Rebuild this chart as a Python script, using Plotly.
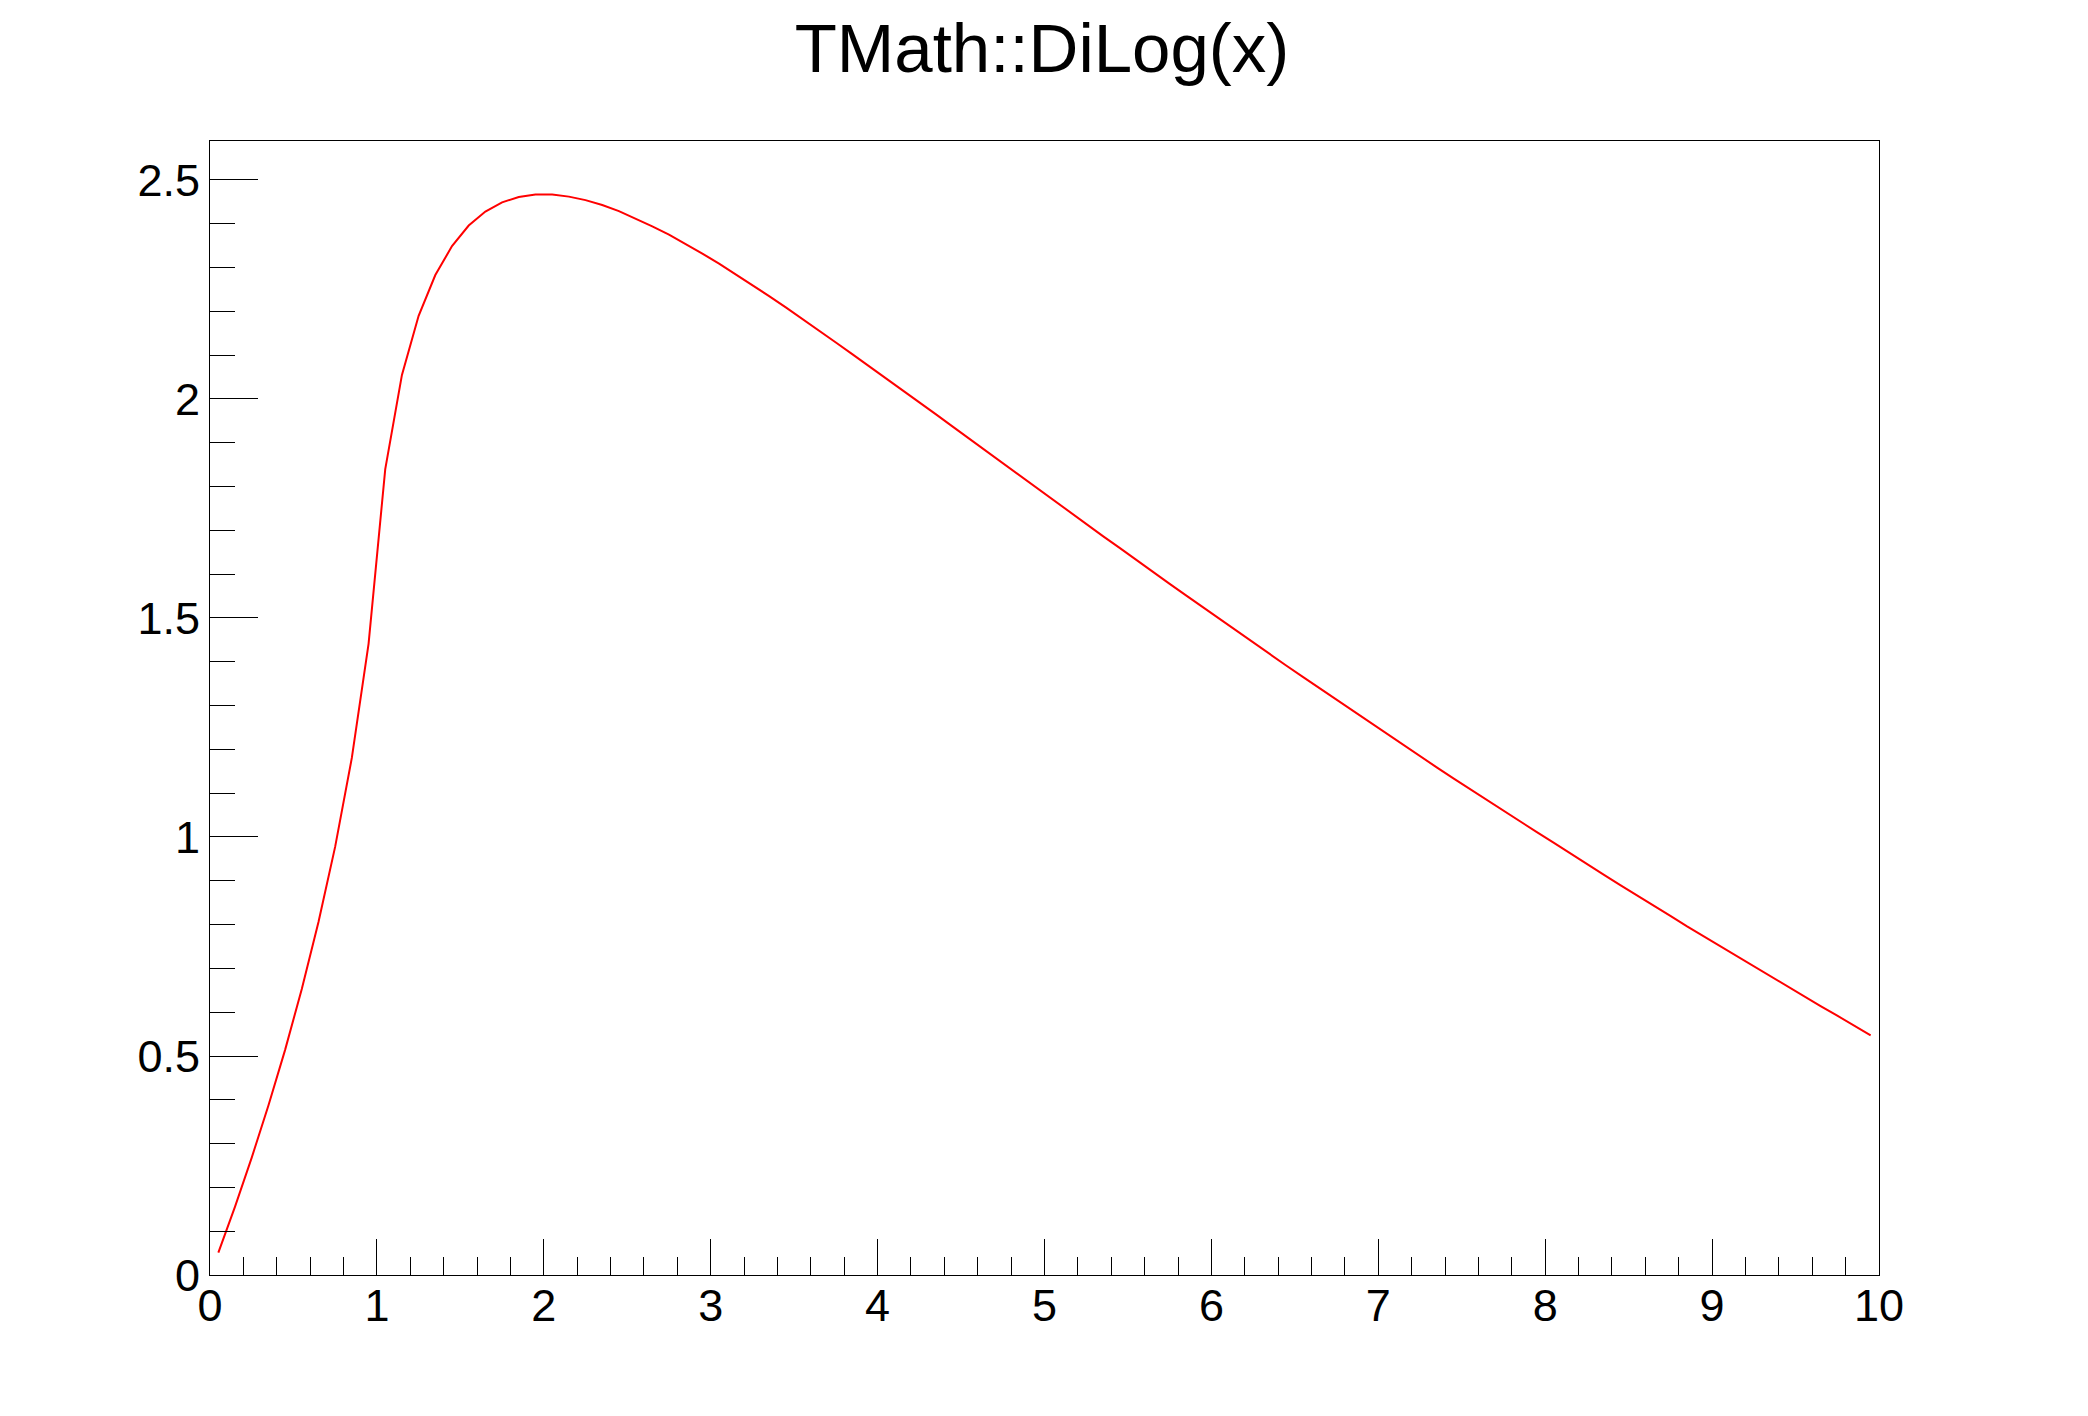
import plotly.graph_objects as go

# sample points of the function
x_vals = [0.05, 0.15, 0.25, 0.35, 0.45, 0.55, 0.65, 0.75, 0.85, 0.95,
          1.05, 1.15, 1.25, 1.35, 1.45, 1.55, 1.65, 1.75, 1.85, 1.95,
          2.05, 2.15, 2.25, 2.35, 2.45, 2.55, 2.65, 2.75, 2.85, 2.95,
          3.05, 3.15, 3.25, 3.35, 3.45, 3.55, 3.65, 3.75, 3.85, 3.95,
          4.05, 4.15, 4.25, 4.35, 4.45, 4.55, 4.65, 4.75, 4.85, 4.95,
          5.05, 5.15, 5.25, 5.35, 5.45, 5.55, 5.65, 5.75, 5.85, 5.95,
          6.05, 6.15, 6.25, 6.35, 6.45, 6.55, 6.65, 6.75, 6.85, 6.95,
          7.05, 7.15, 7.25, 7.35, 7.45, 7.55, 7.65, 7.75, 7.85, 7.95,
          8.05, 8.15, 8.25, 8.35, 8.45, 8.55, 8.65, 8.75, 8.85, 8.95,
          9.05, 9.15, 9.25, 9.35, 9.45, 9.55, 9.65, 9.75, 9.85, 9.95]

y_vals = [0.051, 0.156, 0.268, 0.387, 0.514, 0.653, 0.806, 0.978, 1.181, 1.441,
          1.840, 2.055, 2.190, 2.283, 2.349, 2.396, 2.428, 2.449, 2.461, 2.467,
          2.467, 2.462, 2.454, 2.443, 2.429, 2.412, 2.394, 2.375, 2.354, 2.332,
          2.309, 2.285, 2.260, 2.235, 2.209, 2.183, 2.156, 2.129, 2.102, 2.075,
          2.048, 2.020, 1.992, 1.965, 1.937, 1.909, 1.881, 1.853, 1.825, 1.798,
          1.770, 1.742, 1.715, 1.687, 1.660, 1.632, 1.605, 1.578, 1.551, 1.524,
          1.497, 1.470, 1.444, 1.417, 1.391, 1.365, 1.339, 1.313, 1.287, 1.261,
          1.235, 1.210, 1.185, 1.159, 1.134, 1.109, 1.085, 1.060, 1.035, 1.011,
          0.987, 0.962, 0.938, 0.914, 0.890, 0.867, 0.843, 0.820, 0.796, 0.773,
          0.750, 0.727, 0.704, 0.681, 0.659, 0.636, 0.614, 0.592, 0.569, 0.547]

TITLE = "TMath::DiLog(x)"
FONT = "Liberation Sans, Arial, Helvetica, sans-serif"

fig = go.Figure()
fig.add_trace(go.Scatter(x=x_vals, y=y_vals, mode="lines",
                         line=dict(color="#ff0000", width=2),
                         showlegend=False, hoverinfo="x+y"))

axis_common = dict(
    showgrid=False, zeroline=False,
    showline=True, linecolor="black", linewidth=1, mirror=True,
    ticks="inside", tickcolor="black", tickwidth=1,
    tickfont=dict(family=FONT, size=45, color="black"),
)

fig.update_xaxes(range=[0, 10], dtick=1, tick0=0, ticklen=36,
                 ticklabelstandoff=-9,
                 minor=dict(dtick=0.2, ticks="inside", ticklen=18,
                            tickcolor="black", tickwidth=1, showgrid=False),
                 **axis_common)
fig.update_yaxes(range=[0, 2.589], dtick=0.5, tick0=0, ticklen=48,
                 minor=dict(dtick=0.1, ticks="inside", ticklen=25,
                            tickcolor="black", tickwidth=1, showgrid=False),
                 **axis_common)

# the page body adds an 8px offset, so margins are trimmed by that amount
fig.update_layout(
    width=2088, height=1416,
    margin=dict(l=202, r=217, t=133, b=149),
    paper_bgcolor="white", plot_bgcolor="white",
    title=dict(text=TITLE, x=1034 / 2088, xanchor="center",
               y=1 - 40 / 1416, yanchor="middle", yref="container",
               font=dict(family=FONT, size=69, color="black")),
)

fig.write_html("out.html")
